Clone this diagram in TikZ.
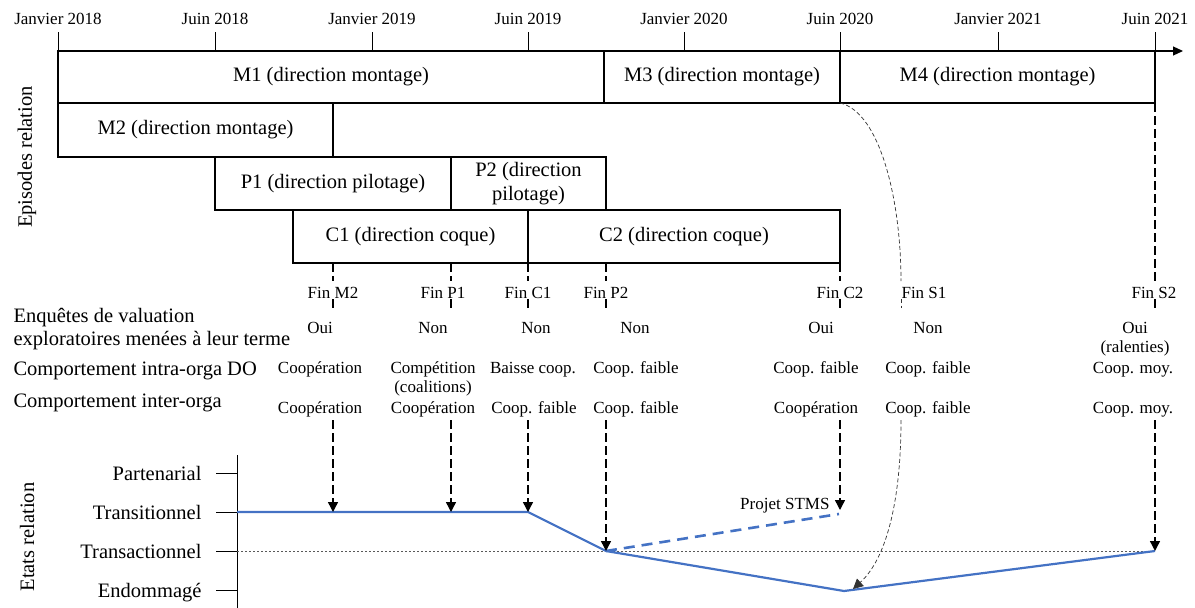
\documentclass[tikz,border=0pt]{standalone}
\usepackage{fontspec}
\setmainfont{Liberation Serif}
\usetikzlibrary{arrows.meta}
\definecolor{bl}{RGB}{68,114,196}
\begin{document}
\begin{tikzpicture}[x=1pt,y=-1pt,
 big/.style={font=\fontsize{20.5}{24}\selectfont},
 sml/.style={font=\fontsize{17}{20}\selectfont},
 box/.style={draw,line width=1.2pt,inner sep=0pt,outer sep=0pt,anchor=north west,align=center,big},
 tickline/.style={line width=1pt},
 blk/.style={line width=1.4pt,dash pattern=on 9pt off 4pt},
 arr/.style={blk,-{Triangle[length=10pt,width=10pt]}},
 thincurve/.style={line width=0.7pt,dash pattern=on 4pt off 2.5pt,color=black!80,-{Triangle[length=10pt,width=10pt]}},
 thinpiece/.style={line width=0.7pt,dash pattern=on 4pt off 2.5pt,color=black!80},
 rel/.style={line width=2.2pt,color=bl},
 reld/.style={line width=2.6pt,color=bl,dash pattern=on 11pt off 7pt},
 dotline/.style={line width=1pt,color=black!65,dash pattern=on 2pt off 2pt},
 lab/.style={sml,anchor=base},
 side/.style={big,anchor=base west},
 lvl/.style={big,anchor=base east}
]
\useasboundingbox (0,0) rectangle (1195,608);

% ---- top time axis
\foreach \x/\t [count=\i] in {58/Janvier 2018,215/Juin 2018,372/Janvier 2019,528/Juin 2019,684/Janvier 2020,840/Juin 2020,998/Janvier 2021,1155/Juin 2021}{
  \draw[tickline] (\x,32) -- (\x,51);
  \node[lab] (date\i) at (\x,24) {\t};
}
\coordinate (ax0) at (58,51);
\coordinate (ax1) at (1183,51);
\draw[line width=1.2pt,-{Triangle[length=10pt,width=9pt]}] (ax0) -- (ax1);

% ---- episode boxes
\node[box,minimum width=546pt,minimum height=52pt] (M1) at (58,51) {M1 (direction montage)};
\node[box,minimum width=236pt,minimum height=52pt] (M3) at (604,51) {M3 (direction montage)};
\node[box,minimum width=315pt,minimum height=52pt] (M4) at (840,51) {M4 (direction montage)};
\node[box,minimum width=275pt,minimum height=54pt] (M2) at (58,103) {M2 (direction montage)};
\node[box,minimum width=236pt,minimum height=53pt] (P1) at (215,157) {P1 (direction pilotage)};
\node[box,minimum width=155pt,minimum height=53pt] (P2) at (451,157) {P2 (direction\\pilotage)};
\node[box,minimum width=235pt,minimum height=53pt] (C1) at (293,210) {C1 (direction coque)};
\node[box,minimum width=312pt,minimum height=53pt] (C2) at (528,210) {C2 (direction coque)};

\node[big,rotate=90] (ep) at (27,157) {Episodes relation};

% ---- row labels on the left
\node[side] (enq1) at (10,322) {Enquêtes de valuation};
\node[side] (enq2) at (10,345) {exploratoires menées à leur terme};
\node[side] (intra) at (10,375) {Comportement intra-orga DO};
\node[side] (inter) at (10,407) {Comportement inter-orga};

% ---- columns
\node[lab] (finM2) at (333,298) {Fin M2};
\node[lab] (vM2) at (320,333) {Oui};
\node[lab] (aM2) at (320,373) {Coopération};
\node[lab] (bM2) at (320,413) {Coopération};

\node[lab] (finP1) at (443,298) {Fin P1};
\node[lab] (vP1) at (433,333) {Non};
\node[lab] (aP1) at (433,373) {Compétition};
\node[lab] (aP1b) at (433,392) {(coalitions)};
\node[lab] (bP1) at (433,413) {Coopération};

\node[lab] (finC1) at (528,298) {Fin C1};
\node[lab] (vC1) at (536,333) {Non};
\node[lab] (aC1) at (533,373) {Baisse coop.};
\node[lab] (bC1) at (534,413) {Coop. faible};

\node[lab] (finP2) at (606,298) {Fin P2};
\node[lab] (vP2) at (635,333) {Non};
\node[lab] (aP2) at (636,373) {Coop. faible};
\node[lab] (bP2) at (636,413) {Coop. faible};

\node[lab] (finC2) at (840,298) {Fin C2};
\node[lab] (vC2) at (821,333) {Oui};
\node[lab] (aC2) at (816,373) {Coop. faible};
\node[lab] (bC2) at (816,413) {Coopération};

\node[lab] (finS1) at (924,298) {Fin S1};
\node[lab] (vS1) at (928,333) {Non};
\node[lab] (aS1) at (928,373) {Coop. faible};
\node[lab] (bS1) at (928,413) {Coop. faible};

\node[lab] (finS2) at (1154,298) {Fin S2};
\node[lab] (vS2) at (1135,333) {Oui};
\node[lab] (vS2b) at (1135,352) {(ralenties)};
\node[lab] (aS2) at (1133,373) {Coop. moy.};
\node[lab] (bS2) at (1133,413) {Coop. moy.};

% ---- relation states axis
\node[big,rotate=90] (et) at (27,537) {Etats relation};
\coordinate (va0) at (237,455);
\coordinate (va1) at (237,608);
\draw[line width=0.8pt] (va0) -- (va1);
\foreach \y/\t/\n in {473/Partenarial/part,512/Transitionnel/trans,551/Transactionnel/tact,590/Endommagé/endo}{
  \draw[line width=0.8pt] (216,\y) -- (237,\y);
  \node[lvl] (\n) at (205,\y+7) {\t};
}

% state points
\coordinate (s0) at (237,512);
\coordinate (sA) at (528,512);
\coordinate (sB) at (606,551);
\coordinate (sC) at (844,591);
\coordinate (sD) at (1155,551);
\coordinate (sE) at (839,514);

\draw[dotline] (237,551) -- (sD);
\draw[rel,line join=round] (s0) -- (sA) -- (sB) -- (sC) -- (sD);
\draw[reld] (sB) -- (sE);

\node[lab,anchor=base east] (stms) at (833,509) {Projet STMS};

% ---- dashed drop lines and arrows
\foreach \x/\t/\e in {333/263/512,451/263/512,528/263/512,606/263/551,840/263/510,1155/103/551}{
  \draw[blk] (\x,\t) -- (\x,281);
  \draw[blk] (\x,299) -- (\x,308);
  \draw[arr] (\x,420) -- (\x,\e);
}

% curved thin dashed link for Fin S1
\coordinate (cs0) at (840,103);
\coordinate (cs1) at (901,281);
\coordinate (cs2) at (901,420);
\coordinate (cs3) at (853,589);
\draw[thinpiece] (cs0) .. controls (880,112) and (901,200) .. (cs1);
\draw[thinpiece] (901,299) -- (901,308);
\draw[thincurve] (cs2) .. controls (901,505) and (885,560) .. (cs3);
\end{tikzpicture}
\end{document}
